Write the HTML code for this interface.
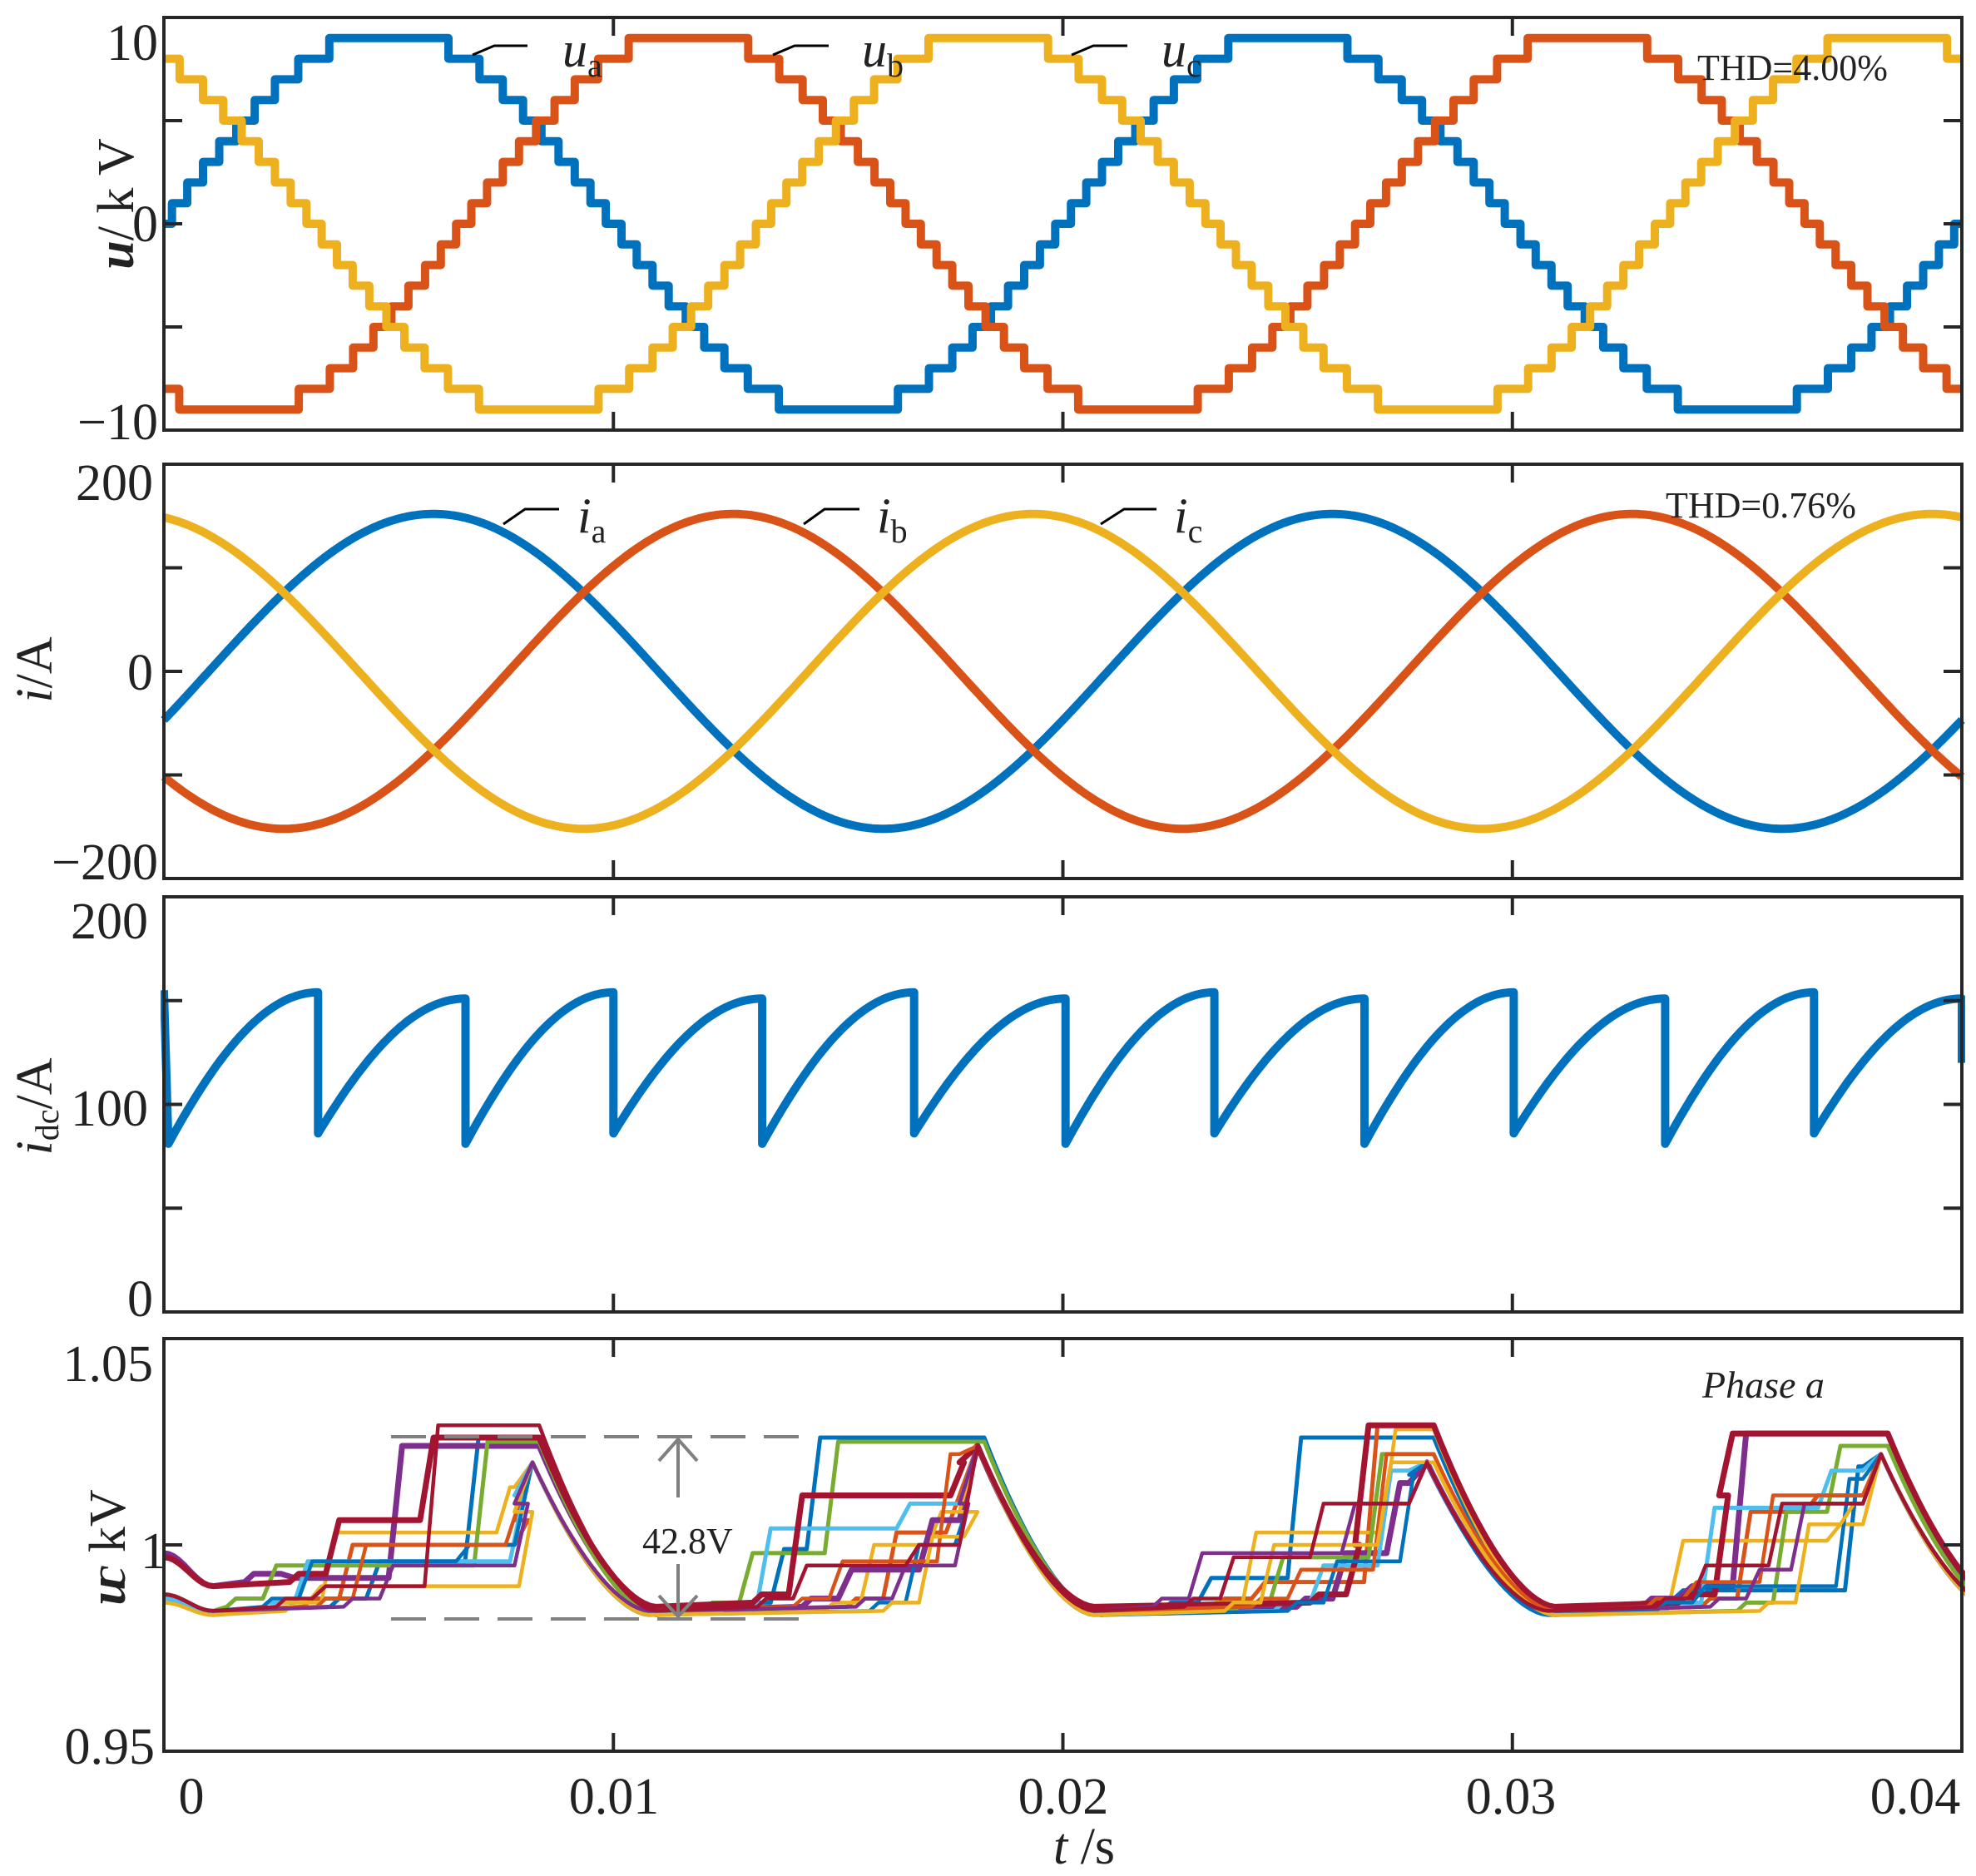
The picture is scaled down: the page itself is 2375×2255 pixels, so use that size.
<!DOCTYPE html>
<html><head><meta charset="utf-8"><style>
html,body{margin:0;padding:0;background:#fff;}
svg{display:block;font-family:"Liberation Serif",serif;}
</style></head><body>
<svg id="chart" width="2375" height="2255" viewBox="0 0 2375 2255" xmlns="http://www.w3.org/2000/svg">
<rect x="0" y="0" width="2375" height="2255" fill="#fff"/>
<g id="plots"></g>
<g id="frames"></g>
<g id="labels" fill="#222" font-size="62">
  <text x="190" y="72" text-anchor="end">10</text>
  <text x="190" y="290" text-anchor="end">0</text>
  <text x="190" y="528" text-anchor="end">−10</text>
  <text x="184" y="601" text-anchor="end">200</text>
  <text x="184" y="829" text-anchor="end">0</text>
  <text x="190" y="1057" text-anchor="end">−200</text>
  <text x="178" y="1128" text-anchor="end">200</text>
  <text x="178" y="1353" text-anchor="end">100</text>
  <text x="184" y="1582" text-anchor="end">0</text>
  <text x="184" y="1660" text-anchor="end">1.05</text>
  <text x="200" y="1885" text-anchor="end">1</text>
  <text x="186" y="2120" text-anchor="end">0.95</text>
  <text x="230" y="2180" text-anchor="middle">0</text>
  <text x="738" y="2180" text-anchor="middle">0.01</text>
  <text x="1278" y="2180" text-anchor="middle">0.02</text>
  <text x="1816" y="2180" text-anchor="middle">0.03</text>
  <text x="2302" y="2180" text-anchor="middle">0.04</text>
  <text x="1303" y="2240" text-anchor="middle"><tspan font-style="italic">t</tspan> /s</text>
  <text transform="translate(160,245) rotate(-90)" text-anchor="middle"><tspan font-style="italic" font-weight="bold">u</tspan>/ k V</text>
  <text transform="translate(62,805) rotate(-90)" text-anchor="middle"><tspan font-style="italic">i</tspan>/A</text>
  <text transform="translate(62,1330) rotate(-90)" text-anchor="middle"><tspan font-style="italic">i</tspan><tspan font-size="40" dy="8">dc</tspan><tspan dy="-8">/A</tspan></text>
  <text transform="translate(150,1860) rotate(-90)" text-anchor="middle"><tspan font-style="italic" font-weight="bold">u</tspan><tspan font-style="italic" dx="-14">c</tspan> kV</text>
  <text x="2040" y="96" font-size="44">THD=4.00%</text>
  <text x="2002" y="622" font-size="44">THD=0.76%</text>
  <text x="2046" y="1680" font-size="46" font-style="italic">Phase a</text>
  <text x="772" y="1867" font-size="44">42.8V</text>
  <text x="676" y="80" font-size="60" font-style="italic">u<tspan font-size="40" font-style="normal" dy="12">a</tspan></text>
  <text x="1036" y="80" font-size="60" font-style="italic">u<tspan font-size="40" font-style="normal" dy="12">b</tspan></text>
  <text x="1396" y="80" font-size="60" font-style="italic">u<tspan font-size="40" font-style="normal" dy="12">c</tspan></text>
  <text x="694" y="640" font-size="60" font-style="italic">i<tspan font-size="40" font-style="normal" dy="12">a</tspan></text>
  <text x="1054" y="640" font-size="60" font-style="italic">i<tspan font-size="40" font-style="normal" dy="12">b</tspan></text>
  <text x="1411" y="640" font-size="60" font-style="italic">i<tspan font-size="40" font-style="normal" dy="12">c</tspan></text>
</g>
<g stroke="#000" stroke-width="3" fill="none">
  <polyline points="568,66 594,55 634,55"/>
  <polyline points="929,66 955,55 996,55"/>
  <polyline points="1288,66 1314,55 1355,55"/>
  <polyline points="605,630 631,612 672,612"/>
  <polyline points="966,630 991,612 1033,612"/>
  <polyline points="1323,630 1351,612 1390,612"/>
</g>
<g stroke="#808080" stroke-width="4" fill="none">
  <line x1="470" y1="1727" x2="970" y2="1727" stroke-dasharray="42,22"/>
  <line x1="470" y1="1946" x2="970" y2="1946" stroke-dasharray="42,22"/>
  <line x1="815" y1="1730" x2="815" y2="1800"/>
  <polyline points="792,1756 815,1730 838,1756"/>
  <line x1="815" y1="1880" x2="815" y2="1943"/>
  <polyline points="792,1918 815,1943 838,1918"/>
</g>
</svg>
<script>
// ---------- data ----------
const timeRange = [0, 0.04];
const xTicks = [0.01, 0.02, 0.03];
const colors = ['#0072BD','#D95319','#EDB120','#7E2F8E','#77AC30','#4DBEEE','#A2142F'];
const phaseNames = ['ua','ub','uc'];
const voltagePhaseDeg = [0, -120, 120];
const voltageAmplitudeLevels = 9.3;
const levelStepKV = 1.0;
const gridFreqHz = 50;
const p1Range = [-10, 10];
const p1Ticks = [-5, 0, 5];
const currentNames = ['ia','ib','ic'];
const currentAmplitude = 152;
const currentPhaseDeg = [-18, -138, 102];
const p2Range = [-200, 200];
const p2Ticks = [-100, 0, 100];
const idcDropTimes = [0.0001, 0.00343, 0.00671, 0.0100, 0.01331, 0.01669, 0.02006, 0.02337, 0.02671, 0.03003, 0.03340, 0.03671, 0.0400];
const idcSegPeaks = [154, 151, 154, 151, 154, 151, 154, 151, 154, 151, 154, 151];
const idcSegMins  = [81, 86, 81, 86, 81, 86, 81, 86, 81, 86, 81, 86];
const idcStart = 155;
const idcEnd = 120;
const p3Range = [0, 200];
const p3Ticks = [50, 100, 150];
const p4Range = [0.95, 1.05];
const p4Ticks = [1.0];
const troughTimesMs = [1.1, 11.0, 21.0, 31.0, 41.0];
const cuspTimesMs = [8.2, 18.1, 28.1, 38.2];
const cuspValues = [1.020, 1.024, 1.020, 1.022];
const declineMs = [2.6, 2.6, 2.7, 2.7];
const capStart = [0.988,0.988,0.986,0.998,0.988,0.987,0.997,0.988,0.988,0.986,0.988,0.988];
const capFirstTrough = [0.984,0.984,0.983,0.990,0.984,0.983,0.990,0.984,0.984,0.983,0.984,0.984];
const capTrough = [0.983,0.984,0.983,0.984,0.983,0.983,0.985,0.983,0.984,0.983,0.984,0.984];
const capJumps = [
 [[4.5,0.996,6.7,1.026],[13.5,0.999,14.3,1.026],[23.0,0.992,25.0,1.026],[33.5,0.989,37.4,1.019]],
 [[3.9,1.000,7.8,1.006],[16.0,1.003,17.4,1.012],[24.2,0.991,26.7,1.029],[35.0,1.008,36.5,1.012]],
 [[3.5,1.003,7.4,1.014],[15.5,1.000,17.0,1.008],[24.0,1.003,27.1,1.028],[33.5,1.001,37.0,1.005]],
 [[2.6,0.992,5.0,1.024],[15.0,0.994,16.8,1.006],[26.0,0.998,27.2,1.015],[33.7,0.990,34.9,1.027]],
 [[2.2,0.995,6.9,1.025],[12.8,0.998,14.7,1.025],[24.6,0.997,26.8,1.022],[35.8,1.008,37.0,1.024]],
 [[2.9,0.996,7.7,1.012],[13.2,1.004,16.3,1.010],[25.5,0.995,27.0,1.018],[34.2,1.009,36.8,1.018]],
 [[3.6,1.006,5.7,1.026],[13.9,1.012,17.5,1.020],[26.3,1.000,26.5,1.029],[34.5,1.012,34.6,1.027]],
 [[3.0,0.996,6.5,1.000],[16.5,1.000,17.6,1.010],[25.8,0.996,27.5,1.017],[34.0,0.990,37.2,1.016]],
 [[4.2,1.000,7.6,1.010],[14.8,0.996,17.2,1.022],[25.0,0.994,26.9,1.022],[33.8,0.991,35.5,1.012]],
 [[3.2,0.990,7.9,1.008],[16.8,1.002,17.8,1.008],[24.4,1.000,27.0,1.020],[36.3,1.005,37.3,1.010]],
 [[4.8,0.995,7.8,1.010],[16.2,0.995,17.6,1.010],[22.8,0.998,26.2,1.010],[35.2,0.994,36.2,1.010]],
 [[3.3,0.990,5.8,1.029],[14.0,0.995,16.5,1.000],[23.5,0.997,25.5,1.010],[34.0,0.995,35.7,1.010]]
];
const capColorIdx = [0,1,2,3,4,5,6,0,1,2,3,6];
const capWidths = [5,5,4.5,7,5,5,7,4.5,4.5,4.5,4.5,4.5];

// ---------- layout ----------
const L = 197, R = 2358;
const panels = [
  {name:'voltage', top:21, bottom:517, range:p1Range, ticks:p1Ticks},
  {name:'current', top:558, bottom:1056, range:p2Range, ticks:p2Ticks},
  {name:'dc-current', top:1078, bottom:1577, range:p3Range, ticks:p3Ticks},
  {name:'cap-voltage', top:1609, bottom:2105, range:p4Range, ticks:p4Ticks}
];
const NS = 'http://www.w3.org/2000/svg';
const plots = document.getElementById('plots');
const frames = document.getElementById('frames');
function xs(t){ return L + (t - timeRange[0])/(timeRange[1]-timeRange[0])*(R-L); }
function ysFor(p){ return v => p.bottom - (v - p.range[0])/(p.range[1]-p.range[0])*(p.bottom-p.top); }
function mkPath(pts, color, w, name, clipIdx){
  const el = document.createElementNS(NS,'path');
  let d = '';
  pts.forEach((q,i)=>{ d += (i?'L':'M') + q[0].toFixed(1) + ',' + q[1].toFixed(1); });
  el.setAttribute('d', d);
  el.setAttribute('fill','none');
  el.setAttribute('stroke', color);
  el.setAttribute('stroke-width', w);
  el.setAttribute('stroke-linejoin','round');
  el.setAttribute('clip-path','url(#clip'+clipIdx+')');
  
  
  plots.appendChild(el);
}
const svg = document.getElementById('chart');
const defs = document.createElementNS(NS,'defs');
panels.forEach((p,i)=>{
  const cp = document.createElementNS(NS,'clipPath'); cp.setAttribute('id','clip'+i);
  const r = document.createElementNS(NS,'rect');
  r.setAttribute('x',L-4); r.setAttribute('y',p.top); r.setAttribute('width',R-L+8); r.setAttribute('height',p.bottom-p.top);
  cp.appendChild(r); defs.appendChild(cp);
});
svg.insertBefore(defs, svg.firstChild);

// panel 1
(function(){
  const p = panels[0], ys = ysFor(p);
  const w = 2*Math.PI*gridFreqHz;
  phaseNames.forEach((nm,k)=>{
    const ph = voltagePhaseDeg[k]*Math.PI/180;
    const pts = [];
    let prev = null;
    const N = 4000;
    for(let i=0;i<=N;i++){
      const t = timeRange[0] + (timeRange[1]-timeRange[0])*i/N;
      const lev = Math.round(voltageAmplitudeLevels*Math.sin(w*t+ph));
      if(prev!==null && lev!==prev){ pts.push([xs(t), ys(prev*levelStepKV)]); }
      pts.push([xs(t), ys(lev*levelStepKV)]);
      prev = lev;
    }
    mkPath(pts, colors[k], 10, 'series-'+nm, 0);
  });
})();
// panel 2
(function(){
  const p = panels[1], ys = ysFor(p);
  const w = 2*Math.PI*gridFreqHz;
  currentNames.forEach((nm,k)=>{
    const ph = currentPhaseDeg[k]*Math.PI/180;
    const pts = [];
    for(let i=0;i<=800;i++){
      const t = timeRange[0] + (timeRange[1]-timeRange[0])*i/800;
      pts.push([xs(t), ys(currentAmplitude*Math.sin(w*t+ph))]);
    }
    mkPath(pts, colors[k], 10, 'series-'+nm, 1);
  });
})();
// panel 3
(function(){
  const p = panels[2], ys = ysFor(p);
  const pts = [[xs(0), ys(idcStart)]];
  for(let s=0;s<idcSegPeaks.length;s++){
    const t0 = idcDropTimes[s], t1 = idcDropTimes[s+1];
    const mn = idcSegMins[s], pk = idcSegPeaks[s];
    for(let i=0;i<=40;i++){
      const u = i/40;
      const f = (Math.sin(Math.PI/6 + u*Math.PI/3) - 0.5)/0.5;
      pts.push([xs(t0 + (t1-t0)*u), ys(mn + (pk-mn)*f)]);
    }
  }
  pts.push([xs(idcDropTimes[idcDropTimes.length-1]), ys(idcEnd)]);
  mkPath(pts, colors[0], 10, 'series-idc', 2);
})();
// panel 4
(function(){
  const p = panels[3], ys = ysFor(p);
  const ramp = 0.3;
  capJumps.forEach((humps, li)=>{
    const pts = [];
    const add = (tms, v) => pts.push([xs(tms/1000), ys(v)]);
    let vt = capFirstTrough[li];
    for(let i=0;i<=10;i++){ const u=i/10; add(troughTimesMs[0]*u, vt + (capStart[li]-vt)*(1+Math.cos(Math.PI*u))/2); }
    humps.forEach((h,k)=>{
      const tc = cuspTimesMs[k];
      const [t1,v1,t2,v2] = h;
      add(t1-0.8, vt + 0.001);
      add(t1-0.6, vt + 0.003);
      add(t1, vt + 0.003);
      add(t1+ramp, v1);
      add(t2, v1);
      add(t2+ramp, v2);
      let vc = v2, tpk = tc + 0.15;
      if(v2 < cuspValues[k]){ add(tc-0.4, v2); add(tc, cuspValues[k]); vc = cuspValues[k]; tpk = tc; }
      else add(tpk, v2);
      const vn = capTrough[li];
      const dm = declineMs[k];
      for(let i=1;i<=20;i++){ const u=i/20; add(tpk + dm*u, vn + (vc-vn)*Math.pow(1-u,1.7)); }
      vt = vn;
    });
    add(41, vt);
    mkPath(pts, colors[capColorIdx[li]], capWidths[li], 'capacitor-voltage-'+(li+1), 3);
  });
})();
// frames & ticks
panels.forEach((p)=>{
  const ys = ysFor(p);
  const r = document.createElementNS(NS,'rect');
  r.setAttribute('x',L); r.setAttribute('y',p.top); r.setAttribute('width',R-L); r.setAttribute('height',p.bottom-p.top);
  r.setAttribute('fill','none'); r.setAttribute('stroke','#262626'); r.setAttribute('stroke-width','4');
  
  
  frames.appendChild(r);
  const mkLine=(x1,y1,x2,y2,name)=>{
    const l = document.createElementNS(NS,'line');
    l.setAttribute('x1',x1); l.setAttribute('y1',y1); l.setAttribute('x2',x2); l.setAttribute('y2',y2);
    l.setAttribute('stroke','#262626'); l.setAttribute('stroke-width','4');
    
    
    frames.appendChild(l);
  };
  xTicks.forEach(t=>{
    mkLine(xs(t),p.top,xs(t),p.top+22,p.name+'-xtick-top');
    mkLine(xs(t),p.bottom,xs(t),p.bottom-22,p.name+'-xtick-bottom');
  });
  p.ticks.forEach(v=>{
    mkLine(L,ys(v),L+22,ys(v),p.name+'-ytick-left');
    mkLine(R,ys(v),R-22,ys(v),p.name+'-ytick-right');
  });
});
</script>
</body></html>
